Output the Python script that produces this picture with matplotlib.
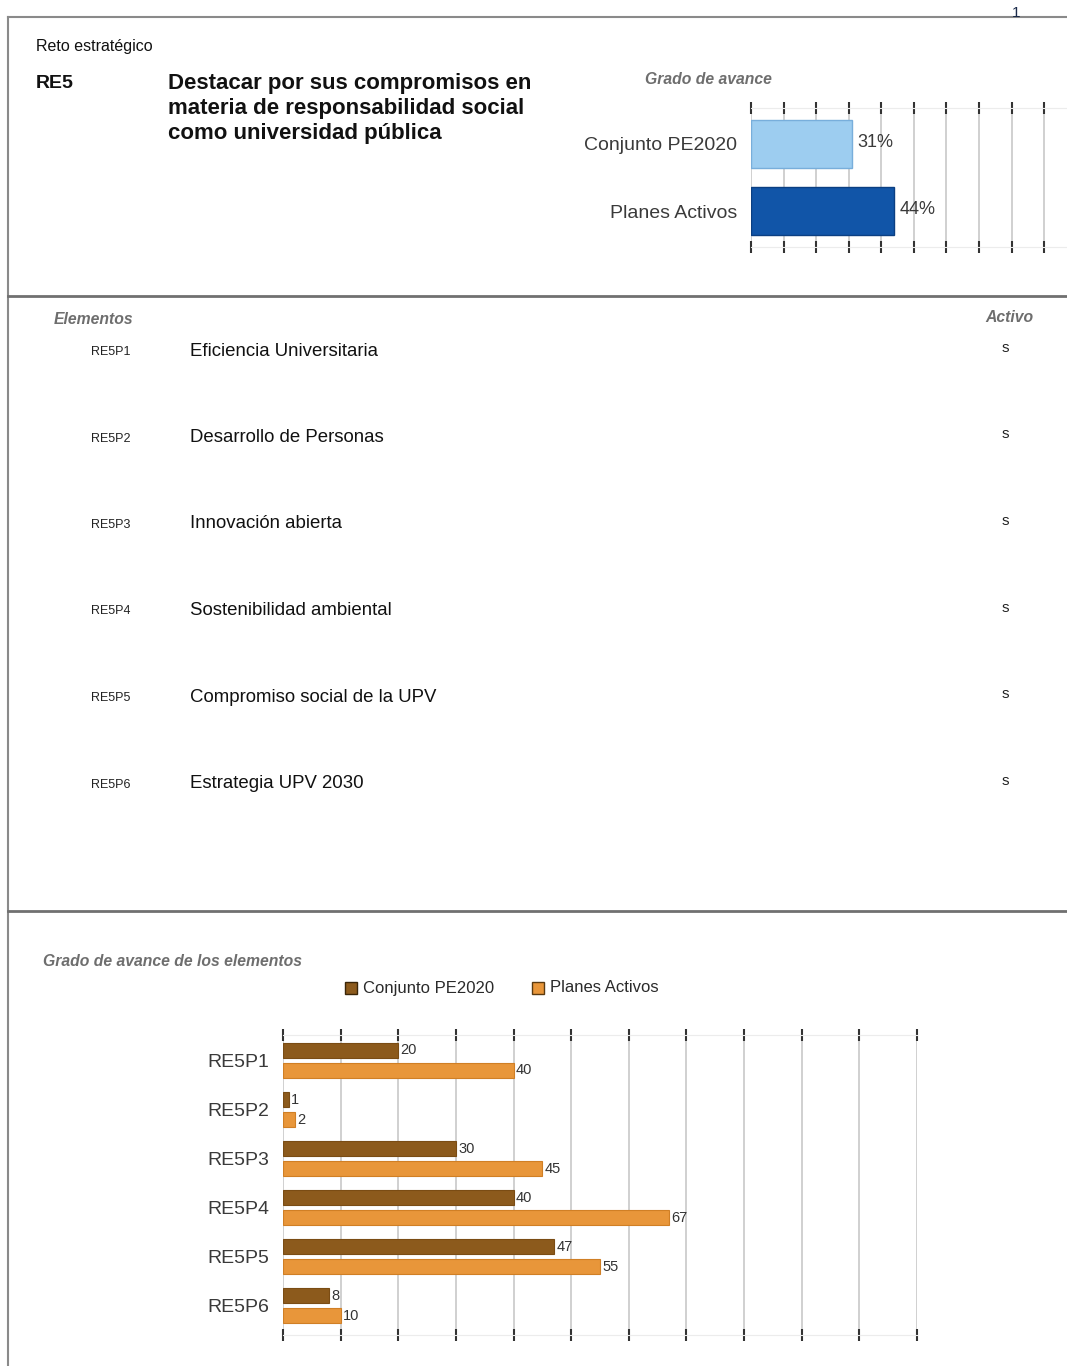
import numpy as np
import matplotlib
matplotlib.use('Agg')
import matplotlib.pyplot as plt
from matplotlib.lines import Line2D
from matplotlib.patches import Rectangle

plt.rcParams['font.family'] = ['Liberation Sans', 'DejaVu Sans']

reto_code = "RE5"
reto_title = "Destacar por sus compromisos en\nmateria de responsabilidad social\ncomo universidad pública"
top_labels = ["Conjunto PE2020", "Planes Activos"]
top_values = [31, 44]

codes = ["RE5P1", "RE5P2", "RE5P3", "RE5P4", "RE5P5", "RE5P6"]
names = ["Eficiencia Universitaria", "Desarrollo de Personas", "Innovación abierta",
         "Sostenibilidad ambiental", "Compromiso social de la UPV", "Estrategia UPV 2030"]
activo = ["s", "s", "s", "s", "s", "s"]
conjunto = [20, 1, 30, 40, 47, 8]
planes = [40, 2, 45, 67, 55, 10]

W, H = 1067, 1366
fig = plt.figure(figsize=(W/100, H/100), dpi=100)

def fx(x): return x / W
def fy(y): return 1 - y / H
def txt(x, y, s, **kw):
    kw.setdefault('va', 'center')
    fig.text(fx(x), fy(y), s, **kw)
def hline(x0, x1, y, **kw):
    fig.add_artist(Line2D([fx(x0), fx(x1)], [fy(y), fy(y)], transform=fig.transFigure, **kw))

# frame
hline(8, 1067, 17, color='#8a8a8a', lw=1.5)
fig.add_artist(Line2D([fx(8), fx(8)], [fy(17), 0], transform=fig.transFigure, color='#8a8a8a', lw=1.5))
hline(8, 1067, 296, color='#707070', lw=2)
hline(8, 1067, 911, color='#707070', lw=2)
txt(1016, 13, "1", fontsize=11, color='#1a2a4a', ha='center')

# header
txt(36, 47, "Reto estratégico", fontsize=11.5, family=['Liberation Sans Narrow', 'Liberation Sans'], color='#111')
txt(36, 83, reto_code, fontsize=14, fontweight='bold', color='#111')
for i, line in enumerate(reto_title.split("\n")):
    txt(168, 83 + i * 25.5, line, fontsize=16, fontweight='bold', color='#111')
grey_ital = dict(fontsize=11.3, fontweight='bold', style='italic', color='#6e6e6e')
txt(645, 79, "Grado de avance", **grey_ital)

# top chart
ax1 = fig.add_axes([fx(751), fy(247), fx(1067) - fx(751), (247 - 108) / H])
ypos = np.arange(len(top_values))
ax1.barh(ypos, top_values, height=0.71, color=['#9dcdf0', '#1155a8'],
         edgecolor=['#78aedb', '#0b3f82'], lw=1, zorder=3)
ax1.set_xlim(0, 97)
ax1.set_ylim(1.53, -0.53)
ax1.set_xticks(np.arange(0, 100, 10))
ax1.set_xticklabels([])
ax1.set_yticks(ypos)
ax1.set_yticklabels(top_labels, fontsize=14, color='#3a3a3a')
ax1.tick_params(axis='y', length=0, pad=10)
ax1.tick_params(axis='x', top=True, bottom=True, direction='inout', length=8, width=1.5, color='#333')
ax1.grid(axis='x', color='#c8c8c8', lw=1.2, zorder=0)
for s in ['left', 'right']:
    ax1.spines[s].set_visible(False)
for s in ['top', 'bottom']:
    ax1.spines[s].set_color('#ececec')
for y, v in zip(ypos, top_values):
    ax1.text(v + 1.5, y - 0.02, f"{v}%", fontsize=13, color='#3a3a3a', va='center', zorder=4)

# elements list
txt(54, 320, "Elementos", **grey_ital)
txt(985, 317, "Activo", **grey_ital)
for i, (c, n, a) in enumerate(zip(codes, names, activo)):
    y = 351 + i * 86.5
    txt(91, y + 1, c, fontsize=9, family=['Liberation Sans Narrow', 'Liberation Sans'], color='#222')
    txt(190, y, n, fontsize=13.4, color='#111')
    txt(1005, y - 3, a, fontsize=11, color='#222', ha='center')

# bottom chart
txt(43, 962, "Grado de avance de los elementos", **grey_ital)
c_dark, c_light = '#8c5a1c', '#e8963a'
fig.add_artist(Rectangle((fx(345), fy(994)), 12 / W, 12 / H, transform=fig.transFigure,
                         facecolor=c_dark, edgecolor='#3a2508', lw=1))
txt(363, 988, "Conjunto PE2020", fontsize=12, color='#2a2a2a')
fig.add_artist(Rectangle((fx(532), fy(994)), 12 / W, 12 / H, transform=fig.transFigure,
                         facecolor=c_light, edgecolor='#5a3a10', lw=1))
txt(550, 988, "Planes Activos", fontsize=12, color='#2a2a2a')

ax2 = fig.add_axes([fx(283), fy(1335), (917 - 283) / W, 300 / H])
yy = np.arange(len(codes))
off, bh = 0.204, 0.306
ax2.barh(yy - off, conjunto, height=bh, color=c_dark, edgecolor='#7a4c14', lw=0.8, zorder=3)
ax2.barh(yy + off, planes, height=bh, color=c_light, edgecolor='#d07f25', lw=0.8, zorder=3)
for y, a, b in zip(yy, conjunto, planes):
    ax2.text(a + 0.4, y - off, str(a), fontsize=10.5, color='#333', va='center', zorder=4)
    ax2.text(b + 0.4, y + off, str(b), fontsize=10.5, color='#333', va='center', zorder=4)
ax2.set_xlim(0, 110)
ax2.set_ylim(5.6, -0.52)
ax2.set_xticks(np.arange(0, 111, 10))
ax2.set_xticklabels([])
ax2.set_yticks(yy)
ax2.set_yticklabels(codes, fontsize=14, color='#3a3a3a')
ax2.tick_params(axis='y', length=0, pad=10)
ax2.tick_params(axis='x', top=True, bottom=True, direction='inout', length=9, width=1.5, color='#333')
ax2.grid(axis='x', color='#c8c8c8', lw=1.2, zorder=0)
for s in ['left', 'right']:
    ax2.spines[s].set_visible(False)
for s in ['top', 'bottom']:
    ax2.spines[s].set_color('#ececec')

fig.savefig('out.png', dpi=100)
